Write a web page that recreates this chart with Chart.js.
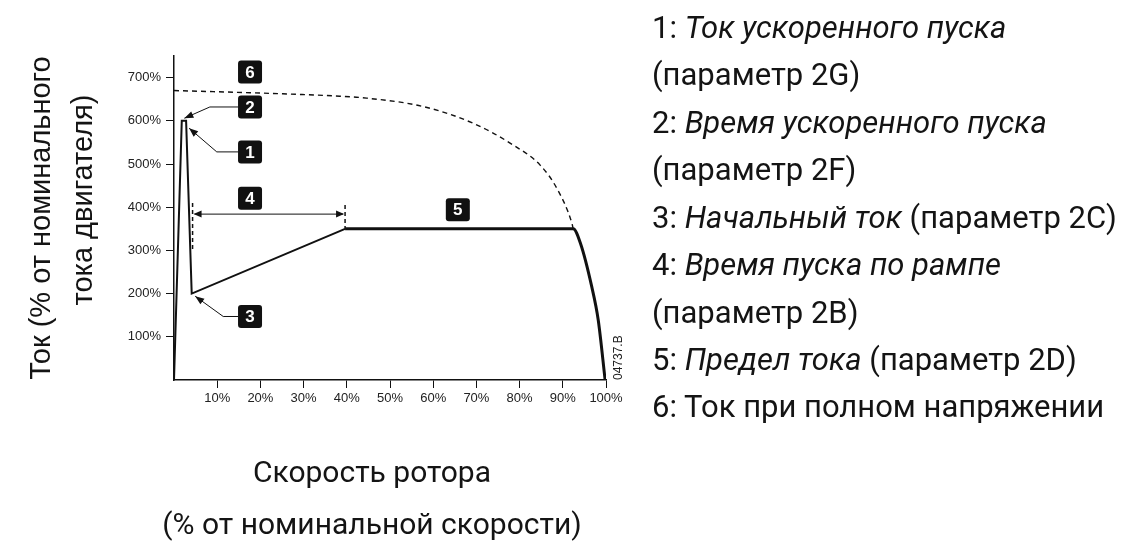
<!DOCTYPE html>
<html>
<head>
<meta charset="utf-8">
<script src="https://cdn.jsdelivr.net/npm/chart.js@4.4.0/dist/chart.umd.min.js"></script>
<style>
  html, body { margin: 0; padding: 0; background: #fff; }
  #wrap { position: relative; width: 1126px; height: 558px; overflow: hidden; }
  #chart { position: absolute; left: 0; top: 0; }
  .t { position: absolute; white-space: nowrap; color: #141414; line-height: 1; }
  .leg { font-family: Roboto, "Noto Sans", sans-serif; font-size: 31px; left: 652px; transform: translateY(-50%); }
  .leg i { font-style: italic; }
  .xt { font-family: Roboto, "Noto Sans", sans-serif; font-size: 30px; left: 372px; transform: translate(-50%, -50%); }
  .yt { font-family: "Liberation Sans", Arial, sans-serif; font-size: 29px; transform: translate(-50%, -50%) rotate(-90deg); }
</style>
</head>
<body>
<div id="wrap">
  <canvas id="chart" width="1126" height="558"></canvas>

  <div class="t yt" style="left:40px; top:218px;">Ток (% от номинального</div>
  <div class="t yt" style="left:82px; top:200px;">тока двигателя)</div>

  <div class="t xt" style="top:472px;">Скорость ротора</div>
  <div class="t xt" style="top:524px;">(% от номинальной скорости)</div>

  <div class="t leg" style="top:27px;">1: <i>Ток ускоренного пуска</i></div>
  <div class="t leg" style="top:74px;">(параметр 2G)</div>
  <div class="t leg" style="top:122px;">2: <i>Время ускоренного пуска</i></div>
  <div class="t leg" style="top:169px;">(параметр 2F)</div>
  <div class="t leg" style="top:217px;">3: <i>Начальный ток</i> (параметр 2C)</div>
  <div class="t leg" style="top:264px;">4: <i>Время пуска по рампе</i></div>
  <div class="t leg" style="top:312px;">(параметр 2B)</div>
  <div class="t leg" style="top:359px;">5: <i>Предел тока</i> (параметр 2D)</div>
  <div class="t leg" style="top:406px;">6: Ток при полном напряжении</div>
</div>

<script>
// speed in % of full speed, current in % of motor FLC
const startSpeed = [0, 1.8, 2.8, 4.1, 39.6];
const startCurrent = [0, 600, 600, 200, 350];

const limitSpeed = [39.6, 92.4, 94.1, 96.7, 98.2, 99.8];
const limitCurrent = [350, 350, 316, 216, 139, 0];

const dolSpeed = [0, 17.6, 29.2, 38.4, 43, 57.7, 69.3, 78.5, 84.7, 88.6, 92.1, 92.4];
const dolCurrent = [670, 665, 661, 657, 654, 633, 594, 544, 498, 444, 363, 350];

const xTicks = [10, 20, 30, 40, 50, 60, 70, 80, 90, 100];
const yTicks = [100, 200, 300, 400, 500, 600, 700];

const pts = (xs, ys) => xs.map((x, i) => ({ x, y: ys[i] }));

// numbered callouts, in data units
const callouts = [
  { n: '6', x: 17.6, y: 713 },
  { n: '2', x: 17.6, y: 632, elbow: [8.3, 632], tip: [2.4, 606] },
  { n: '1', x: 17.6, y: 528, elbow: [9.9, 528], tip: [3.5, 583] },
  { n: '4', x: 17.6, y: 421 },
  { n: '3', x: 17.6, y: 147, elbow: [11.4, 147], tip: [4.9, 194] },
  { n: '5', x: 65.7, y: 394 }
];

function arrowHead(ctx, fx, fy, tx, ty, len, half) {
  const a = Math.atan2(ty - fy, tx - fx);
  ctx.beginPath();
  ctx.moveTo(tx, ty);
  ctx.lineTo(tx - len * Math.cos(a) + half * Math.sin(a), ty - len * Math.sin(a) - half * Math.cos(a));
  ctx.lineTo(tx - len * Math.cos(a) - half * Math.sin(a), ty - len * Math.sin(a) + half * Math.cos(a));
  ctx.closePath();
  ctx.fill();
}

const annotations = {
  id: 'annotations',
  afterDatasetsDraw(chart) {
    const { ctx, scales: { x, y }, chartArea } = chart;
    const px = v => x.getPixelForValue(v);
    const py = v => y.getPixelForValue(v);
    ctx.save();
    ctx.strokeStyle = '#111';
    ctx.fillStyle = '#111';

    // ramp time markers
    ctx.lineWidth = 1.5;
    ctx.setLineDash([4, 3]);
    ctx.beginPath();
    ctx.moveTo(px(4.3), py(410)); ctx.lineTo(px(4.3), py(297));
    ctx.moveTo(px(39.6), py(405)); ctx.lineTo(px(39.6), py(350));
    ctx.stroke();
    ctx.setLineDash([]);

    // double arrow for ramp time
    ctx.lineWidth = 1;
    const ay = py(384), ax1 = px(4.3), ax2 = px(39.6);
    ctx.beginPath();
    ctx.moveTo(ax1 + 2, ay); ctx.lineTo(ax2 - 2, ay);
    ctx.stroke();
    arrowHead(ctx, ax2, ay, ax1 + 1, ay, 8, 3.5);
    arrowHead(ctx, ax1, ay, ax2 - 1, ay, 8, 3.5);

    // leader lines
    const bw = 24, bh = 23;
    callouts.forEach(c => {
      if (!c.tip) return;
      const bx = px(c.x) - bw / 2, by = py(c.y);
      const ex = px(c.elbow[0]), tx = px(c.tip[0]), ty = py(c.tip[1]);
      ctx.lineWidth = 1;
      ctx.beginPath();
      ctx.moveTo(bx, by); ctx.lineTo(ex, by); ctx.lineTo(tx, ty);
      ctx.stroke();
      arrowHead(ctx, ex, by, tx, ty, 9, 3.5);
    });

    // numbered boxes
    ctx.font = 'bold 17px "Liberation Sans", Arial, sans-serif';
    ctx.textAlign = 'center';
    ctx.textBaseline = 'middle';
    callouts.forEach(c => {
      const cx = px(c.x), cy = py(c.y);
      ctx.fillStyle = '#111';
      ctx.beginPath();
      ctx.roundRect(cx - bw / 2, cy - bh / 2, bw, bh, 3);
      ctx.fill();
      ctx.fillStyle = '#fff';
      ctx.fillText(c.n, cx, cy + 1);
    });

    // drawing reference
    ctx.fillStyle = '#222';
    ctx.font = '12px "Liberation Sans", Arial, sans-serif';
    ctx.translate(chartArea.right + 16, chartArea.bottom);
    ctx.rotate(-Math.PI / 2);
    ctx.textAlign = 'left';
    ctx.textBaseline = 'alphabetic';
    ctx.fillText('04737.B', 0, 0);
    ctx.restore();
  }
};

new Chart(document.getElementById('chart'), {
  type: 'line',
  data: {
    datasets: [
      {
        data: pts(dolSpeed, dolCurrent),
        borderColor: '#111',
        borderWidth: 1.4,
        borderDash: [5, 4],
        cubicInterpolationMode: 'monotone',
        pointRadius: 0
      },
      {
        data: pts(startSpeed, startCurrent),
        borderColor: '#111',
        borderWidth: 2,
        borderJoinStyle: 'miter',
        pointRadius: 0
      },
      {
        data: pts(limitSpeed, limitCurrent),
        borderColor: '#111',
        borderWidth: 3,
        cubicInterpolationMode: 'monotone',
        pointRadius: 0
      }
    ]
  },
  options: {
    responsive: false,
    animation: false,
    layout: { padding: { left: 0, top: 56, right: 520, bottom: 148 } },
    plugins: { legend: { display: false }, tooltip: { enabled: false } },
    scales: {
      x: {
        type: 'linear',
        min: 0,
        max: 100,
        afterBuildTicks: s => { s.ticks = xTicks.map(v => ({ value: v })); },
        afterFit: s => { s.height = 30; },
        ticks: {
          callback: v => v + '%',
          color: '#222',
          padding: 3,
          maxRotation: 0,
          font: { family: '"Liberation Sans", Arial, sans-serif', size: 13 }
        },
        grid: { drawOnChartArea: false, drawTicks: true, tickLength: 8, color: '#111', lineWidth: 1 },
        border: { display: true, color: '#111', width: 1.5 }
      },
      y: {
        type: 'linear',
        min: 0,
        max: 750,
        afterBuildTicks: s => { s.ticks = yTicks.map(v => ({ value: v })); },
        afterFit: s => { s.width = 174; },
        ticks: {
          callback: v => v + '%',
          color: '#222',
          padding: 5,
          font: { family: '"Liberation Sans", Arial, sans-serif', size: 13 }
        },
        grid: { drawOnChartArea: false, drawTicks: true, tickLength: 8, color: '#111', lineWidth: 1 },
        border: { display: true, color: '#111', width: 1.5 }
      }
    }
  },
  plugins: [annotations]
});
</script>
</body>
</html>
